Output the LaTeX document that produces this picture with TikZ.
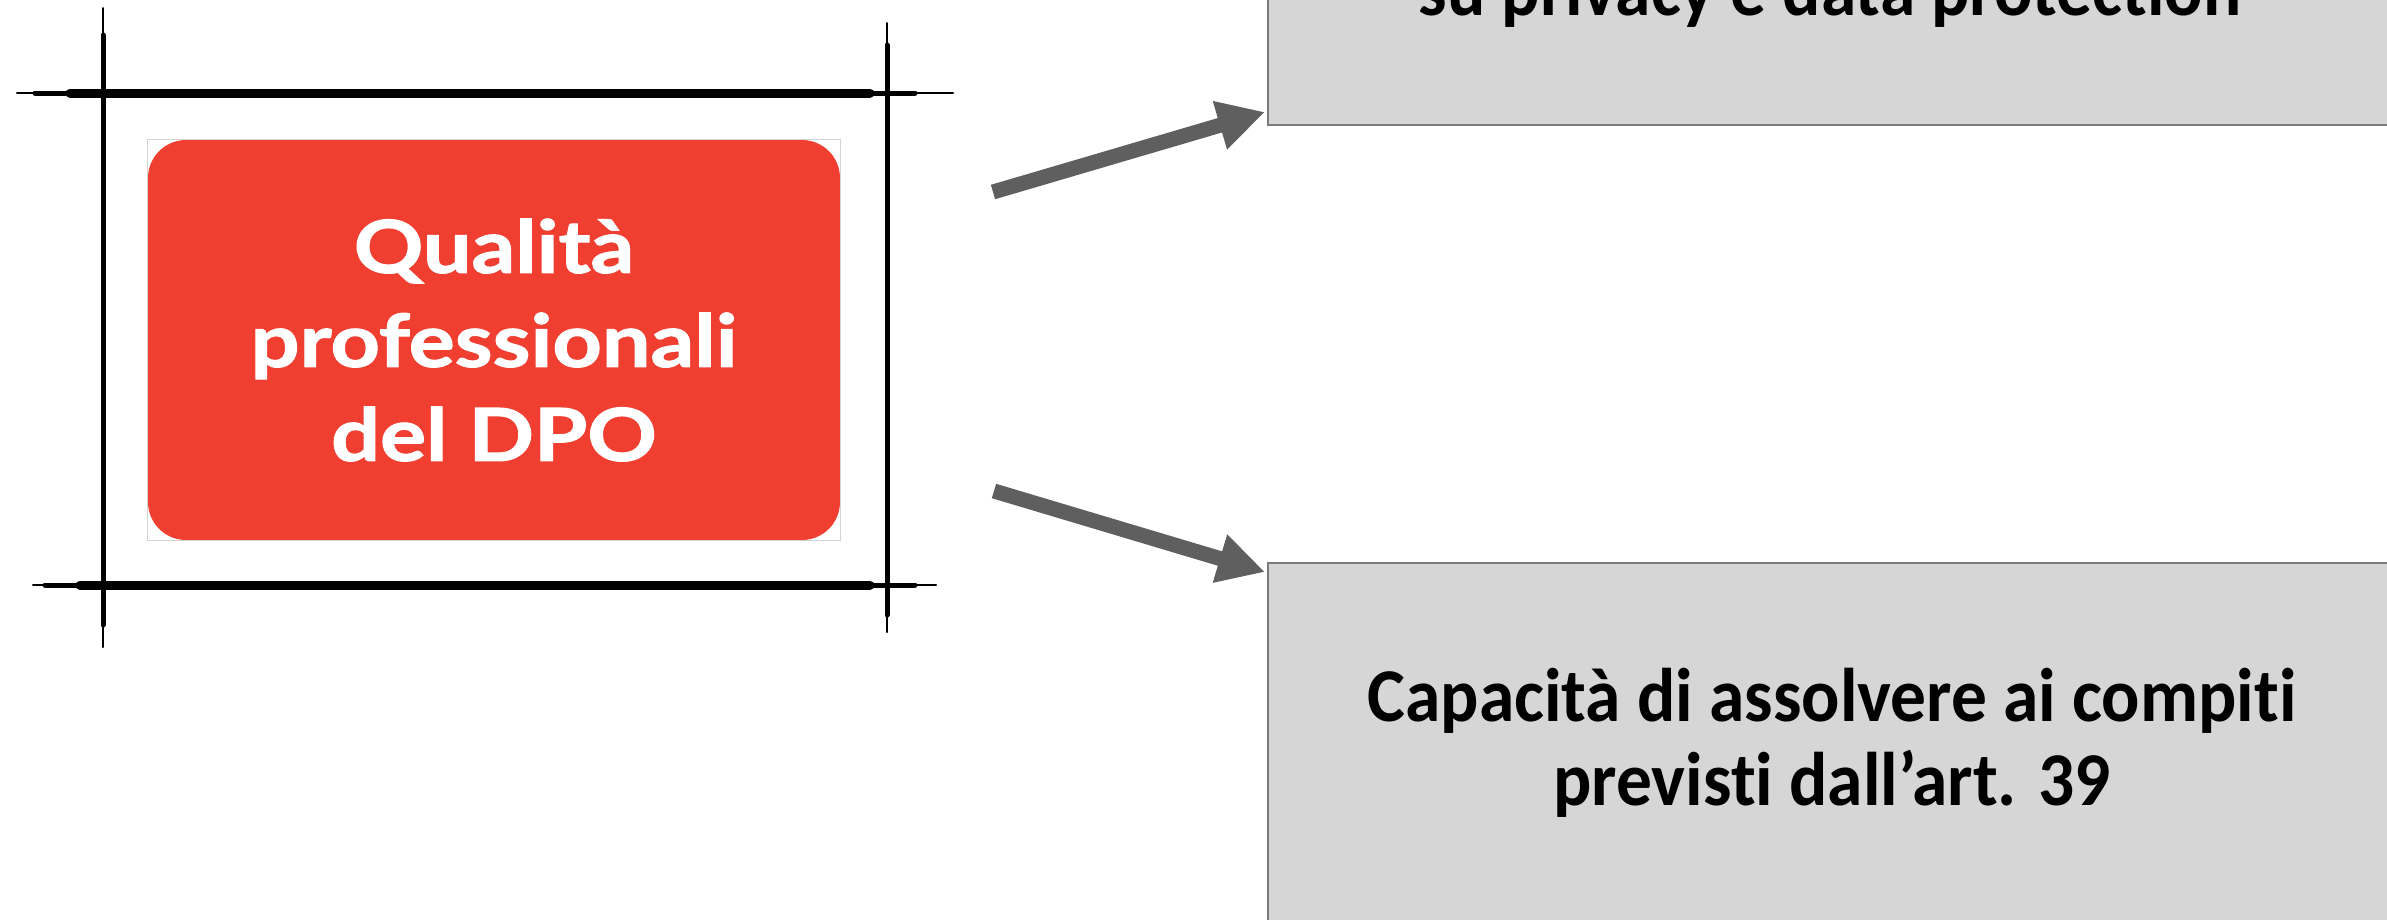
\documentclass[tikz,border=0pt]{standalone}
\usepackage{fontspec}
\usepackage{tikz}
\usetikzlibrary{arrows.meta,positioning,calc}
\newfontfamily\calfont{Carlito}[FakeStretch=0.94, Ligatures=NoCommon]
\newfontfamily\gillfont{Lato}[FakeStretch=1.18, BoldFeatures={FakeBold=1.6}]
\definecolor{dpored}{HTML}{F03F31}
\definecolor{boxgray}{HTML}{D6D6D6}
\definecolor{boxedge}{HTML}{7A7A7A}
\definecolor{arrowgray}{HTML}{5F5F5F}
\tikzset{
    %Define standard arrow tip
    >={Triangle[length=47pt,width=47pt]},
    % Define box style
    greybox/.style={
           rectangle,
           fill=boxgray,
           draw=boxedge,
           line width=2pt,
           inner sep=0pt},
    boxtext/.style={
           text centered,
           inner sep=0pt,
           font=\calfont\bfseries\fontsize{76}{84}\selectfont},
    % Define arrow style
    arr/.style={
           ->,
           draw=arrowgray,
           line width=15pt}
}

\begin{document}
\begin{tikzpicture}[x=1pt, y=-1pt]
	\tikzstyle{dpobox} = [rectangle, rounded corners=38pt, fill=dpored, text=white, align=center,
	                      minimum width=692pt, minimum height=400pt, inner sep=0pt,
	                      font=\gillfont\bfseries\fontsize{73}{94}\selectfont]
	\tikzstyle{brush} = [black, line width=5pt, line cap=round]
	\tikzstyle{brush thin} = [black, line width=2pt, line cap=round]
	\tikzstyle{brush core} = [black, line width=9pt, line cap=round]

	\useasboundingbox (0,0) rectangle (2387,919);
	\clip (0,0) rectangle (2387,919);

	% DPO box
	\node[dpobox](dpo) at (494,340){Qualità\\professionali\\del DPO};
	\draw[gray!35, line width=1pt] (dpo.north west) rectangle (dpo.south east);

	% Sketched frame
	\draw[brush thin] (17,93) -- (953,93);
	\draw[brush] (35,93) -- (915,93);
	\draw[brush core] (70,93) -- (870,93);
	\draw[brush thin] (33,585) -- (936,585);
	\draw[brush] (45,585) -- (915,585);
	\draw[brush core] (80,585) -- (870,585);
	\draw[brush thin] (103,8) -- (103,647);
	\draw[brush] (103,35) -- (103,625);
	\draw[brush thin] (887,23) -- (887,632);
	\draw[brush] (887,45) -- (887,615);

	% Right boxes
	\node[greybox, minimum width=1128pt, minimum height=400pt, anchor=south west](privacy) at (1267,126){};
	\node[boxtext, anchor=base](privacy-text) at (1830,15){su privacy e data protection};

	\node[greybox, minimum width=1128pt, minimum height=420pt, anchor=north west](tasks) at (1267,562){};
	\node[boxtext, align=center, below=106pt of tasks.north](tasks-text){Capacità di assolvere ai compiti\\previsti dall’art. 39};

	% Arrows
	\coordinate (up-tail) at (993,192);
	\coordinate (down-tail) at (994,491);
	\draw[arr] (up-tail) -- ([shift={(-2pt,14pt)}]privacy.south west);
	\draw[arr] (down-tail) -- ([shift={(-2pt,-10pt)}]tasks.north west);

\end{tikzpicture}
\end{document}
